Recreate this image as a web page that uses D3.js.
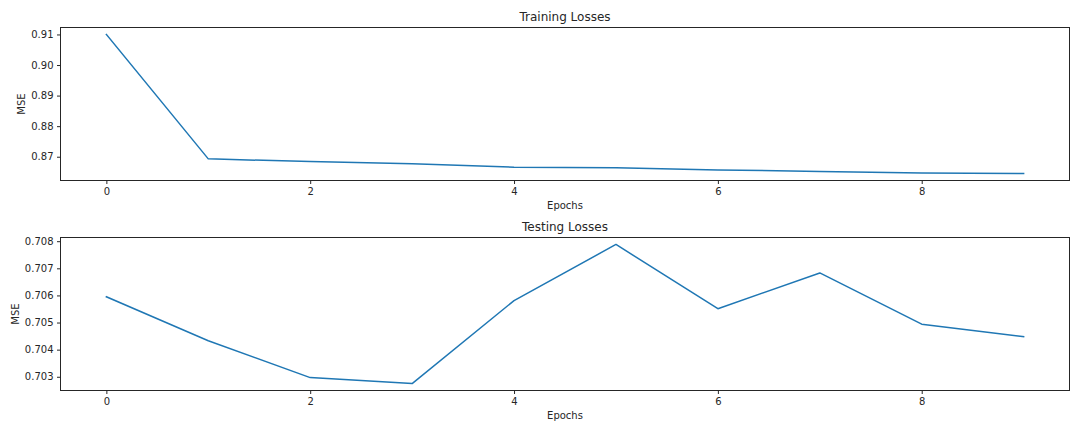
<!DOCTYPE html>
<html>
<head>
<meta charset="utf-8">
<script src="https://cdn.jsdelivr.net/npm/d3@7"></script>
<style>
  html, body { margin: 0; padding: 0; background: #fff; }
  svg { display: block; font-family: "DejaVu Sans", sans-serif; }
</style>
</head>
<body>
<svg id="chart" width="1080" height="432"></svg>
<script>
const epochs = [0, 1, 2, 3, 4, 5, 6, 7, 8, 9];
const trainLoss = [0.9100, 0.8693, 0.8684, 0.8677, 0.8666, 0.8664, 0.8657, 0.8652, 0.8647, 0.8645];
const testLoss = [0.70595, 0.70433, 0.70297, 0.70275, 0.70581, 0.70788, 0.70551, 0.70683, 0.70494, 0.70448];
const xTicks = [0, 2, 4, 6, 8];
const trainYTicks = [0.87, 0.88, 0.89, 0.90, 0.91];
const testYTicks = [0.703, 0.704, 0.705, 0.706, 0.707, 0.708];

const svg = d3.select("#chart");
const textColor = "#262626";
const lineColor = "#1f77b4";

function pad(ext) {
  const s = ext[1] - ext[0];
  return [ext[0] - 0.05 * s, ext[1] + 0.05 * s];
}

function panel(opts) {
  const { left, right, top, bottom, values, yTicks, yFmt, title, ylabelX } = opts;
  const x = d3.scaleLinear().domain(pad(d3.extent(epochs))).range([left, right]);
  const y = d3.scaleLinear().domain(pad(d3.extent(values))).range([bottom, top]);
  const g = svg.append("g");

  const line = d3.line().x((d, i) => x(epochs[i])).y(d => y(d));
  g.append("path").datum(values)
    .attr("d", line)
    .attr("fill", "none")
    .attr("stroke", lineColor)
    .attr("stroke-width", 1.5)
    .attr("stroke-linejoin", "round")
    .attr("stroke-linecap", "square");

  g.append("rect")
    .attr("x", left).attr("y", top)
    .attr("width", right - left).attr("height", bottom - top)
    .attr("fill", "none").attr("stroke", textColor).attr("stroke-width", 1);

  const xa = g.append("g").attr("transform", `translate(0,${bottom})`)
    .call(d3.axisBottom(x).tickValues(xTicks).tickFormat(d3.format("d")).tickSize(3.5).tickPadding(3.5));
  xa.select(".domain").remove();
  xa.selectAll("line").attr("stroke", textColor);
  xa.selectAll("text").attr("fill", textColor).style("font-size", "10px").style("font-family", "DejaVu Sans");

  const ya = g.append("g").attr("transform", `translate(${left},0)`)
    .call(d3.axisLeft(y).tickValues(yTicks).tickFormat(d3.format(yFmt)).tickSize(3.5).tickPadding(3.5));
  ya.select(".domain").remove();
  ya.selectAll("line").attr("stroke", textColor);
  ya.selectAll("text").attr("fill", textColor).style("font-size", "10px").style("font-family", "DejaVu Sans");

  g.append("text")
    .attr("x", (left + right) / 2).attr("y", top - 7)
    .attr("text-anchor", "middle")
    .attr("fill", textColor)
    .style("font-size", "12px")
    .text(title);

  g.append("text")
    .attr("x", (left + right) / 2).attr("y", bottom + 28.5)
    .attr("text-anchor", "middle")
    .attr("fill", textColor)
    .style("font-size", "10px")
    .text("Epochs");

  g.append("text")
    .attr("transform", `translate(${ylabelX},${(top + bottom) / 2}) rotate(-90)`)
    .attr("text-anchor", "middle")
    .attr("fill", textColor)
    .style("font-size", "10px")
    .text("MSE");
}

panel({ left: 60.5, right: 1069.5, top: 27.5, bottom: 180.5, values: trainLoss,
        yTicks: trainYTicks, yFmt: ".2f", title: "Training Losses", ylabelX: 24.5 });
panel({ left: 60.5, right: 1069.5, top: 237.5, bottom: 390.5, values: testLoss,
        yTicks: testYTicks, yFmt: ".3f", title: "Testing Losses", ylabelX: 18.5 });
</script>
</body>
</html>
